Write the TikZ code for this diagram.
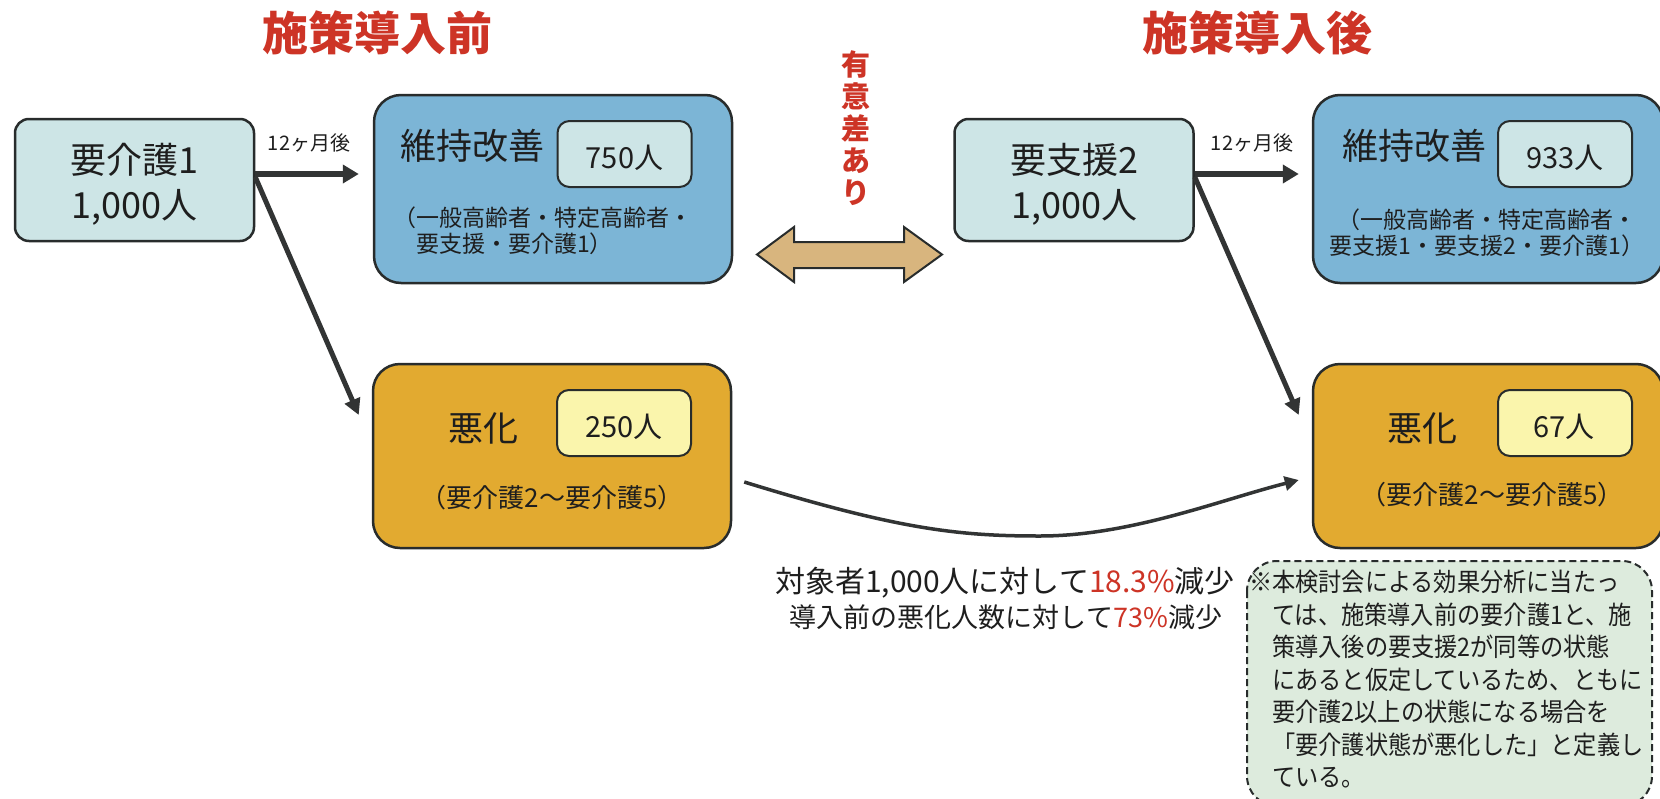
\documentclass[tikz,border=0pt]{standalone}
\usepackage{fontspec}
\setmainfont{Noto Sans CJK JP}
\newfontfamily\notefont[FakeStretch=0.91]{Noto Sans CJK JP}
\usetikzlibrary{arrows.meta,calc}
\definecolor{txt}{RGB}{30,30,30}
\definecolor{bord}{RGB}{40,44,44}
\definecolor{pale}{RGB}{205,229,230}
\definecolor{blueone}{RGB}{124,181,214}
\definecolor{goldone}{RGB}{226,170,48}
\definecolor{paleyel}{RGB}{250,245,172}
\definecolor{redone}{RGB}{205,52,38}
\definecolor{tan}{RGB}{216,181,126}
\definecolor{notefill}{RGB}{221,235,221}
\definecolor{arrc}{RGB}{50,52,52}
\newcommand\fsz[2]{\fontsize{#1}{#2}\selectfont}
\tikzset{
  startbox/.style={draw=bord, line width=2.5pt, fill=pale, rounded corners=14pt,
    minimum width=239pt, minimum height=122pt, inner sep=0pt},
  bluebox/.style={draw=bord, line width=2.5pt, fill=blueone, rounded corners=27pt,
    minimum height=188pt, inner sep=0pt},
  goldbox/.style={draw=bord, line width=2.5pt, fill=goldone, rounded corners=27pt,
    minimum height=184pt, inner sep=0pt},
  numbox/.style={draw=bord, line width=2pt, rounded corners=12pt,
    minimum width=134pt, minimum height=66pt, inner sep=0pt},
  lbl/.style={text=txt, inner sep=0pt, font=\fsz{#1}{#1}},
  harr/.style={draw=arrc, line width=6pt, -{Triangle[length=16pt,width=18pt]}},
  darr/.style={draw=arrc, line width=5pt, -{Triangle[length=16pt,width=16pt]}},
  carr/.style={draw=arrc, line width=3.5pt, -{Triangle[length=14pt,width=14pt]}},
  title/.style={text=redone, inner sep=0pt, font=\fsz{46}{48}\bfseries},
}
\begin{document}
\begin{tikzpicture}[x=1pt,y=-1pt]
\useasboundingbox (0,0) rectangle (1660,798);
\fill[white] (0,0) rectangle (1660,798);
\begin{scope}
\clip (0,0) rectangle (1660,798);

% titles
\node[title] (t1) at (377,33) {施策導入前};
\node[title] (t2) at (1257,33) {施策導入後};

% left side
\node[startbox] (A) at (134.5,180) {};
\node[lbl=36, align=center, font=\fsz{36}{45}] (At) at (134.5,184.5) {要介護1\\1,000人};

\node[bluebox, minimum width=358pt] (B) at (553,189) {};
\node[lbl=36] (Bt) at (472,146) {維持改善};
\node[numbox, fill=pale] (Bn) at (624.5,154) {};
\node[lbl=29] (Bnt) at (624.5,158) {750人};
\node[lbl=23, align=left, anchor=west, font=\fsz{23}{26}] (Bs) at (416,231) {\llap{（}一般高齢者・特定高齢者・\\要支援・要介護1）};

\node[goldbox, minimum width=358pt] (C) at (552,456) {};
\node[lbl=35] (Ct) at (483,428) {悪化};
\node[numbox, fill=paleyel] (Cn) at (624,423) {};
\node[lbl=29] (Cnt) at (624,427) {250人};
\node[lbl=26] (Cs) at (552,498) {（要介護2～要介護5）};

\node[lbl=20] (m1) at (309,143) {12ヶ月後};
\draw[harr] ($(A.east)+(0,-6)$) -- ($(B.west)+(-14,-15)$);
\draw[darr] ($(A.east)+(0,-3)$) -- ($(C.west)+(-13,-41)$);

% middle
\node[text=redone, inner sep=0pt, align=center, font=\fsz{29}{32}\bfseries] (sig) at (856,128) {有\\意\\差\\あ\\り};
\draw[draw=bord, line width=2pt, fill=tan]
  (757,254.5) -- (794,227) -- (794,242) -- (904,242) -- (904,227) -- (942,254.5)
  -- (904,282) -- (904,268) -- (794,268) -- (794,282) -- cycle;

% right side
\node[startbox] (D) at (1074,180) {};
\node[lbl=36, align=center, font=\fsz{36}{45}] (Dt) at (1074.5,184.5) {要支援2\\1,000人};

\node[bluebox, minimum width=350pt] (E) at (1488,189) {};
\node[lbl=36] (Et) at (1414,146) {維持改善};
\node[numbox, fill=pale] (En) at (1565,154) {};
\node[lbl=29] (Ent) at (1565,158) {933人};
\node[lbl=23, align=center, font=\fsz{23}{26}] (Es) at (1487,233) {（一般高齢者・特定高齢者・\\要支援1・要支援2・要介護1）};

\node[goldbox, minimum width=350pt] (F) at (1488,456) {};
\node[lbl=35] (Ft) at (1422,428) {悪化};
\node[numbox, fill=paleyel] (Fn) at (1565,423) {};
\node[lbl=29] (Fnt) at (1564,427) {67人};
\node[lbl=26] (Fs) at (1492,495) {（要介護2～要介護5）};

\node[lbl=20] (m2) at (1252,143) {12ヶ月後};
\draw[harr] ($(D.east)+(0,-6)$) -- ($(E.west)+(-13,-15)$);
\draw[darr] ($(D.east)+(0,-3)$) -- ($(F.west)+(-13,-41)$);

% curve from C to F
\coordinate (cmid) at (1040,536);
\draw[carr] ($(C.east)+(12,26)$) .. controls (900,530) and (960,536) .. (cmid)
  .. controls (1130,536) and (1220,500) .. ($(F.west)+(-13,24)$);

% results
\node[lbl=30] (r1) at (1005,583) {対象者1,000人に対して\textcolor{redone}{18.3\%}減少};
\node[lbl=27] (r2) at (1006,617) {導入前の悪化人数に対して\textcolor{redone}{73\%}減少};

% note
\draw[draw=bord, line width=2pt, dash pattern=on 7pt off 4pt, fill=notefill, rounded corners=30pt]
  (1247,561) rectangle (1652,806);
\node[lbl=25, align=left, anchor=north west, font=\notefont\fsz{25.5}{32.5}] (note) at (1272,570)
  {\llap{※}本検討会による効果分析に当たっ\\ては、施策導入前の要介護1と、施\\策導入後の要支援2が同等の状態\\にあると仮定しているため、ともに\\要介護2以上の状態になる場合を\\「要介護状態が悪化した」と定義し\\ている。};
\end{scope}
\end{tikzpicture}
\end{document}
